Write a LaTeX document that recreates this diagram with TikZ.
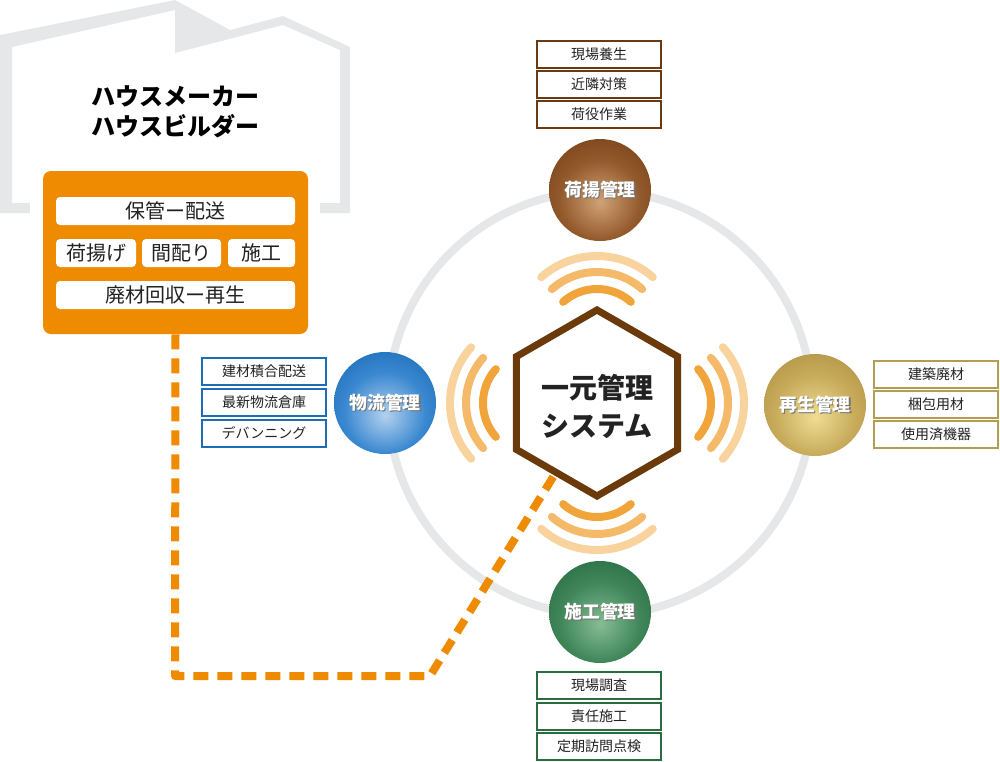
\documentclass[tikz,border=0pt]{standalone}
\usepackage{fontspec}
\setmainfont{Noto Sans CJK JP}
\usetikzlibrary{calc}
\definecolor{housegray}{HTML}{E6E7E8}
\definecolor{ringgray}{HTML}{E6E7E9}
\definecolor{orng}{HTML}{EE8B00}
\definecolor{hexbrown}{HTML}{6B3A0B}
\definecolor{txt}{HTML}{222222}
\definecolor{waveA}{HTML}{F0A43A}
\definecolor{waveB}{HTML}{F4BA6A}
\definecolor{waveC}{HTML}{F9D39E}
\definecolor{brownL}{HTML}{CFA277}
\definecolor{brownM}{HTML}{92592A}
\definecolor{brownD}{HTML}{673610}
\definecolor{blueL}{HTML}{B3D1EE}
\definecolor{blueM}{HTML}{3A88D0}
\definecolor{blueD}{HTML}{0A5BAA}
\definecolor{goldL}{HTML}{EEDD94}
\definecolor{goldM}{HTML}{C7AA5A}
\definecolor{goldD}{HTML}{A4843A}
\definecolor{greenL}{HTML}{86BC94}
\definecolor{greenM}{HTML}{3E8558}
\definecolor{greenD}{HTML}{1D5F36}
\definecolor{bxbrown}{HTML}{6B3A12}
\definecolor{bxblue}{HTML}{1D6DB6}
\definecolor{bxgold}{HTML}{B39D50}
\definecolor{bxgreen}{HTML}{2A6B40}
\pgfdeclareradialshading{ballbrown}{\pgfpoint{0bp}{-6bp}}{color(0bp)=(brownL); color(20bp)=(brownM); color(44bp)=(brownD); color(100bp)=(brownD)}
\pgfdeclareradialshading{ballblue}{\pgfpoint{0bp}{-6bp}}{color(0bp)=(blueL); color(20bp)=(blueM); color(44bp)=(blueD); color(100bp)=(blueD)}
\pgfdeclareradialshading{ballgold}{\pgfpoint{0bp}{-6bp}}{color(0bp)=(goldL); color(20bp)=(goldM); color(44bp)=(goldD); color(100bp)=(goldD)}
\pgfdeclareradialshading{ballgreen}{\pgfpoint{0bp}{-6bp}}{color(0bp)=(greenL); color(20bp)=(greenM); color(44bp)=(greenD); color(100bp)=(greenD)}
\newcommand\shtext[1]{\makebox[0pt][l]{\raisebox{-1pt}{\hspace{0.9pt}\textcolor{black!55}{#1}}}#1}
\begin{document}
\begin{tikzpicture}[x=0.75pt,y=-0.75pt,
  inbox/.style={fill=white, rounded corners=3pt, minimum height=21pt, inner sep=0pt, font=\fontsize{15}{15}\selectfont, text=txt},
  lab/.style={draw, line width=1.5pt, fill=white, minimum width=93pt, minimum height=20.25pt, inner sep=0pt, font=\fontsize{10.5}{10.5}\selectfont, text=txt},
  ball/.style={circle, minimum size=76.5pt, inner sep=0pt, text=white, font=\bfseries\fontsize{13.4}{13.4}\selectfont},
  wave/.style={line width=6pt, line cap=round},
]
\useasboundingbox (0,0) rectangle (1000,761);
% house outline
\fill[housegray, even odd rule] (0,213) -- (0,35) -- (175,0) -- (230,30) -- (283,16) -- (350,47) -- (350,213) -- cycle
  (12,203) -- (12,47) -- (175,10) -- (175,53) -- (283,25) -- (340,50) -- (340,203) -- cycle;
\fill[white] (30,160) rectangle (320,345);
\node[fill=orng, rounded corners=6pt, minimum width=198.75pt, minimum height=122.25pt, inner sep=0pt] (hm) at (175.5,252.5) {};
\node[font=\bfseries\fontsize{18}{22.5}\selectfont, align=center, text=black] (title) at (175,112) {ハウスメーカー\\ハウスビルダー};
\node[inbox, minimum width=179.25pt] (b1) at (175.5,211) {保管ー配送};
\node[inbox, minimum width=60pt] (b2) at (96,253) {荷揚げ};
\node[inbox, minimum width=59.25pt] (b3) at (181.5,253) {間配り};
\node[inbox, minimum width=50.25pt] (b4) at (261.5,253) {施工};
\node[inbox, minimum width=179.25pt] (b5) at (175.5,295) {廃材回収ー再生};
% ring
\draw[ringgray, line width=6pt] (600,403) circle[radius=212];
% system node (text placed after the hexagon)
\coordinate (sys) at (597,406);
% dashed connector
\coordinate (c1) at (175,676);
\coordinate (c2) at (430,676);
\draw[orng, line width=6pt, dash pattern=on 11.25pt off 6.75pt, line join=round] (hm.south) -- (c1) -- (c2) -- (sys);
% waves
\foreach \cx/\cy/\a in {597/340/270, 597/466/90, 534/403/180, 660/403/0}{
  \draw[wave, waveA] ([shift={(\a-41.6:51)}]\cx,\cy) arc[start angle=\a-41.6, end angle=\a+41.6, radius=51];
  \draw[wave, waveB] ([shift={(\a-41.6:68)}]\cx,\cy) arc[start angle=\a-41.6, end angle=\a+41.6, radius=68];
  \draw[wave, waveC] ([shift={(\a-41.6:84)}]\cx,\cy) arc[start angle=\a-41.6, end angle=\a+41.6, radius=84];
}
% hexagon
\draw[hexbrown, line width=5.25pt, fill=white, line join=miter] (597,403) +(90:93) -- +(30:93) -- +(-30:93) -- +(-90:93) -- +(-150:93) -- +(150:93) -- cycle;
\node[font=\bfseries\fontsize{21}{28.5}\selectfont, align=center, text=txt] (systext) at (sys) {一元管理\\システム};
% balls
\node[ball, shade, shading=ballbrown] (nia) at (600,190) {\shtext{荷揚管理}};
\node[ball, shade, shading=ballblue] (but) at (385,403) {\shtext{物流管理}};
\node[ball, shade, shading=ballgold] (sai) at (815,405) {\shtext{再生管理}};
\node[ball, shade, shading=ballgreen] (sek) at (600,612) {\shtext{施工管理}};
% label boxes
\node[lab, draw=bxbrown] (n1) at (599,54) {現場養生};
\node[lab, draw=bxbrown] (n2) at (599,84.5) {近隣対策};
\node[lab, draw=bxbrown] (n3) at (599,114.5) {荷役作業};
\node[lab, draw=bxblue] (l1) at (264,371.5) {建材積合配送};
\node[lab, draw=bxblue] (l2) at (264,402.5) {最新物流倉庫};
\node[lab, draw=bxblue] (l3) at (264,433) {デバンニング};
\node[lab, draw=bxgold] (r1) at (936,374.5) {建築廃材};
\node[lab, draw=bxgold] (r2) at (936,404.5) {梱包用材};
\node[lab, draw=bxgold] (r3) at (936,434.5) {使用済機器};
\node[lab, draw=bxgreen] (s1) at (599,685.5) {現場調査};
\node[lab, draw=bxgreen] (s2) at (599,716) {責任施工};
\node[lab, draw=bxgreen] (s3) at (599,746.5) {定期訪問点検};
\end{tikzpicture}
\end{document}
